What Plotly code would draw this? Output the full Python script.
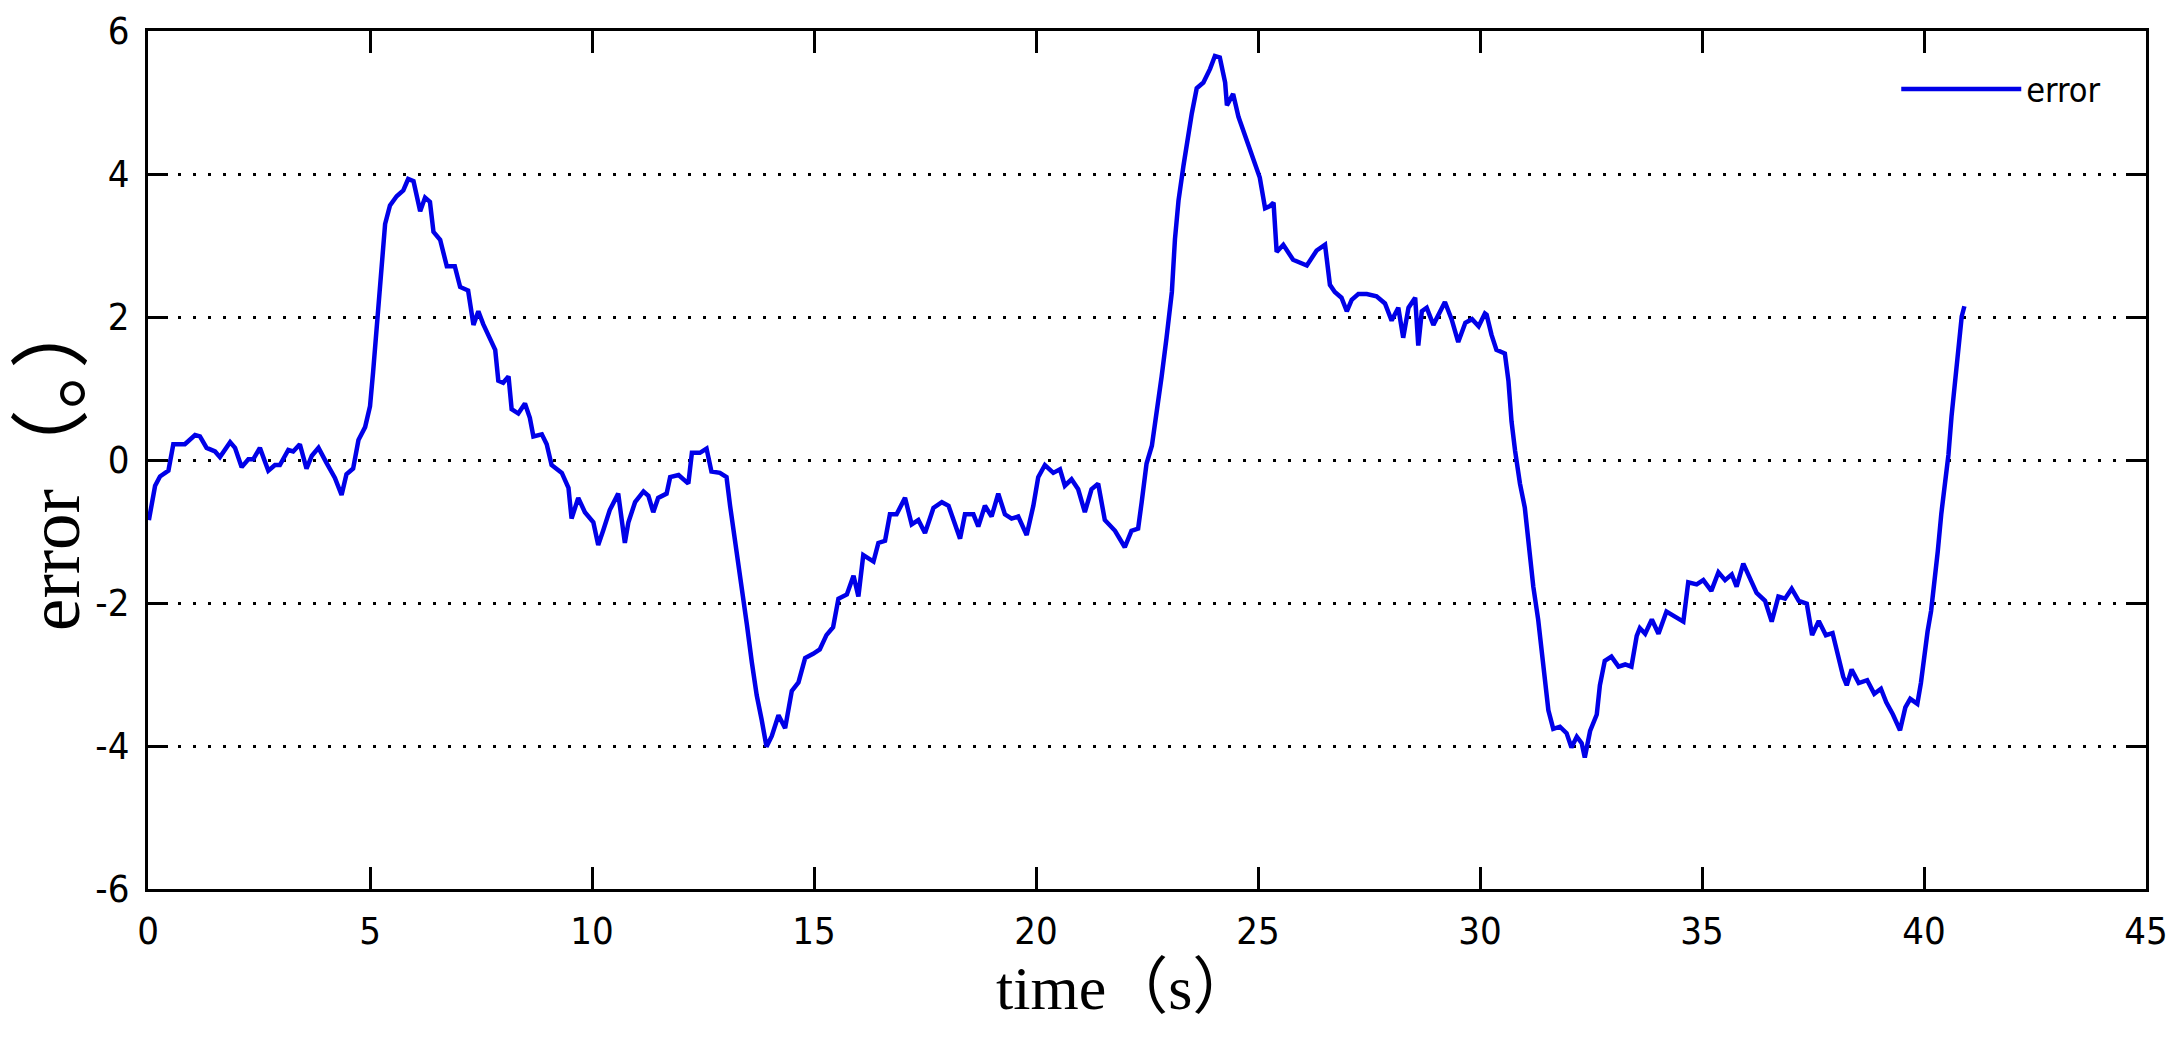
import plotly.graph_objects as go

# time (s) and error (deg)
time_s = [
    0.02, 0.16, 0.27, 0.46, 0.57, 0.83, 1.06, 1.17, 1.32, 1.51, 1.62, 1.85, 1.96, 2.11, 2.26, 2.37,
    2.52, 2.71, 2.86, 2.97, 3.16, 3.27, 3.42, 3.57, 3.69, 3.84, 4.02, 4.21, 4.36, 4.47, 4.62, 4.74,
    4.89, 5.00, 5.07, 5.15, 5.23, 5.30, 5.34, 5.45, 5.60, 5.75, 5.86, 5.98, 6.13, 6.24, 6.35, 6.43,
    6.58, 6.73, 6.91, 7.03, 7.21, 7.33, 7.44, 7.55, 7.70, 7.82, 7.89, 8.00, 8.12, 8.19, 8.34, 8.49,
    8.60, 8.68, 8.87, 8.98, 9.09, 9.32, 9.47, 9.54, 9.69, 9.84, 10.03, 10.14, 10.25, 10.40, 10.59,
    10.74, 10.82, 10.97, 11.16, 11.27, 11.38, 11.49, 11.68, 11.76, 11.95, 12.17, 12.25, 12.43, 12.58,
    12.69, 12.88, 13.03, 13.11, 13.22, 13.30, 13.41, 13.49, 13.60, 13.71, 13.82, 13.93, 14.05, 14.20,
    14.35, 14.50, 14.65, 14.80, 14.98, 15.13, 15.28, 15.43, 15.55, 15.74, 15.89, 16.00, 16.11, 16.34,
    16.45, 16.60, 16.71, 16.86, 17.05, 17.20, 17.35, 17.50, 17.69, 17.88, 18.03, 18.18, 18.29, 18.40,
    18.59, 18.70, 18.85, 19.00, 19.15, 19.30, 19.45, 19.60, 19.79, 19.94, 20.05, 20.20, 20.39, 20.54,
    20.65, 20.80, 20.95, 21.10, 21.25, 21.40, 21.55, 21.78, 22.00, 22.15, 22.30, 22.38, 22.49, 22.61,
    22.72, 22.83, 22.94, 23.06, 23.13, 23.21, 23.32, 23.40, 23.51, 23.62, 23.77, 23.92, 24.03, 24.14,
    24.26, 24.30, 24.44, 24.56, 24.71, 24.82, 24.93, 25.04, 25.16, 25.27, 25.35, 25.42, 25.57, 25.79,
    26.10, 26.32, 26.51, 26.62, 26.73, 26.88, 27.00, 27.11, 27.26, 27.45, 27.67, 27.86, 28.01, 28.16,
    28.27, 28.39, 28.54, 28.61, 28.69, 28.80, 28.95, 29.21, 29.36, 29.51, 29.67, 29.82, 29.97, 30.11,
    30.15, 30.26, 30.37, 30.56, 30.64, 30.71, 30.79, 30.90, 31.01, 31.09, 31.20, 31.31, 31.39, 31.46,
    31.54, 31.65, 31.80, 31.95, 32.06, 32.18, 32.29, 32.36, 32.48, 32.63, 32.70, 32.81, 32.96, 33.12,
    33.27, 33.41, 33.53, 33.60, 33.72, 33.87, 34.02, 34.20, 34.35, 34.58, 34.69, 34.88, 35.03, 35.21,
    35.37, 35.52, 35.67, 35.78, 35.93, 36.08, 36.23, 36.42, 36.57, 36.72, 36.87, 37.02, 37.18, 37.36,
    37.48, 37.63, 37.79, 37.94, 38.06, 38.18, 38.26, 38.37, 38.53, 38.72, 38.88, 39.03, 39.15, 39.30,
    39.46, 39.58, 39.69, 39.85, 39.93, 40.00, 40.08, 40.16, 40.23, 40.31, 40.39, 40.47, 40.55, 40.62,
    40.70, 40.78, 40.85, 40.91,
]
error_deg = [
    -0.84, -0.36, -0.23, -0.15, 0.22, 0.22, 0.35, 0.33, 0.17, 0.12, 0.04, 0.25, 0.17, -0.10, 0.01, 0.01,
    0.17, -0.15, -0.07, -0.07, 0.14, 0.12, 0.22, -0.12, 0.06, 0.17, -0.04, -0.25, -0.49, -0.20, -0.12, 0.28,
    0.46, 0.75, 1.23, 1.86, 2.34, 2.87, 3.30, 3.56, 3.69, 3.77, 3.93, 3.90, 3.48, 3.67, 3.61, 3.19,
    3.08, 2.71, 2.71, 2.42, 2.37, 1.89, 2.08, 1.90, 1.71, 1.54, 1.11, 1.08, 1.17, 0.71, 0.65, 0.79,
    0.59, 0.33, 0.36, 0.22, -0.07, -0.18, -0.39, -0.82, -0.53, -0.73, -0.87, -1.19, -0.99, -0.70, -0.47,
    -1.16, -0.87, -0.59, -0.44, -0.50, -0.73, -0.53, -0.47, -0.24, -0.21, -0.33, 0.10, 0.10, 0.16,
    -0.16, -0.18, -0.24, -0.64, -1.10, -1.45, -1.91, -2.31, -2.83, -3.29, -3.63, -4.01, -3.86, -3.57,
    -3.75, -3.23, -3.11, -2.77, -2.71, -2.65, -2.45, -2.34, -1.94, -1.88, -1.62, -1.91, -1.33, -1.42,
    -1.16, -1.13, -0.76, -0.76, -0.53, -0.90, -0.84, -1.02, -0.67, -0.59, -0.64, -0.93, -1.10, -0.76,
    -0.76, -0.93, -0.64, -0.79, -0.47, -0.76, -0.82, -0.79, -1.05, -0.64, -0.24, -0.07, -0.18, -0.13,
    -0.36, -0.27, -0.41, -0.73, -0.41, -0.33, -0.84, -0.99, -1.22, -0.99, -0.96, -0.59, -0.05, 0.20,
    0.64, 1.17, 1.71, 2.35, 3.09, 3.63, 4.11, 4.43, 4.85, 5.20, 5.28, 5.47, 5.65, 5.63,
    5.28, 4.96, 5.12, 4.80, 4.53, 4.37, 4.13, 3.95, 3.52, 3.55, 3.60, 2.91, 3.01, 2.80,
    2.72, 2.93, 3.01, 2.45, 2.35, 2.27, 2.08, 2.24, 2.32, 2.32, 2.29, 2.19, 1.95, 2.13,
    1.71, 2.13, 2.27, 1.60, 2.08, 2.13, 1.89, 2.21, 1.97, 1.65, 1.92, 1.97, 1.87, 2.05,
    2.03, 1.75, 1.54, 1.49, 1.11, 0.54, 0.13, -0.33, -0.67, -1.19, -1.77, -2.23, -2.69, -3.15,
    -3.50, -3.76, -3.73, -3.82, -4.02, -3.87, -3.96, -4.16, -3.79, -3.56, -3.15, -2.81, -2.75, -2.89,
    -2.86, -2.89, -2.46, -2.35, -2.43, -2.23, -2.43, -2.12, -2.17, -2.26, -1.71, -1.74, -1.68, -1.83,
    -1.57, -1.68, -1.60, -1.77, -1.45, -1.65, -1.86, -1.97, -2.26, -1.91, -1.94, -1.80, -1.97, -2.01,
    -2.45, -2.25, -2.45, -2.42, -2.74, -3.03, -3.15, -2.93, -3.12, -3.08, -3.27, -3.20, -3.39, -3.56,
    -3.78, -3.46, -3.34, -3.41, -3.12, -2.74, -2.40, -2.11, -1.77, -1.28, -0.75, -0.31, 0.07, 0.61,
    1.14, 1.67, 2.01, 2.15,
]

x_ticks = [0, 5, 10, 15, 20, 25, 30, 35, 40, 45]
y_ticks = [-6, -4, -2, 0, 2, 4, 6]
series_name = "error"
x_title = "time（s）"
y_title_latin = "error"
y_title_cjk = "（。）"

sans_narrow = "Liberation Sans Narrow, Arial Narrow, DejaVu Sans Condensed, sans-serif"
serif = "Liberation Serif, Times New Roman, Noto Sans CJK SC, serif"
tick_font = dict(family=sans_narrow, size=38, color="black")

fig = go.Figure()
fig.add_trace(go.Scatter(
    x=time_s, y=error_deg, mode="lines", name=series_name,
    line=dict(color="#0000e8", width=4.5),
))

fig.update_layout(
    width=2184, height=1049,
    margin=dict(l=140, r=46, t=23, b=168),
    paper_bgcolor="white", plot_bgcolor="white",
    showlegend=True,
    legend=dict(
        x=0.875, y=0.932, xanchor="left", yanchor="middle",
        bgcolor="rgba(0,0,0,0)", borderwidth=0,
        font=dict(family=sans_narrow, size=34, color="black"),
        itemwidth=120,
    ),
    annotations=[dict(
        text=x_title, xref="paper", yref="paper", x=0.5, y=0,
        xanchor="center", yanchor="middle", xshift=-22, yshift=-99,
        showarrow=False, font=dict(family=serif, size=62, color="black"),
    )],
)

fig.update_xaxes(
    range=[0, 45], tickvals=x_ticks, ticktext=[str(v) for v in x_ticks],
    showline=True, linecolor="black", linewidth=3, mirror="ticks",
    ticks="inside", ticklen=22, tickwidth=3, tickcolor="black",
    showgrid=False, zeroline=False,
    tickfont=tick_font, ticklabelstandoff=6, ticklabeloverflow="allow",
    automargin=False,
)
fig.update_yaxes(
    range=[-6, 6], tickvals=y_ticks, ticktext=[str(v) for v in y_ticks],
    showline=True, linecolor="black", linewidth=3, mirror="ticks",
    ticks="inside", ticklen=20, tickwidth=3, tickcolor="black",
    showgrid=True, gridcolor="black", gridwidth=3, griddash="3px,12px",
    zeroline=False,
    tickfont=tick_font, ticklabelstandoff=8, ticklabeloverflow="allow",
    title=dict(text=y_title_latin + '<span style="font-size:80px">' + y_title_cjk + '</span>',
               font=dict(family=serif, size=73, color="black"), standoff=28),
    automargin=False,
)

fig.write_html("out.html")
